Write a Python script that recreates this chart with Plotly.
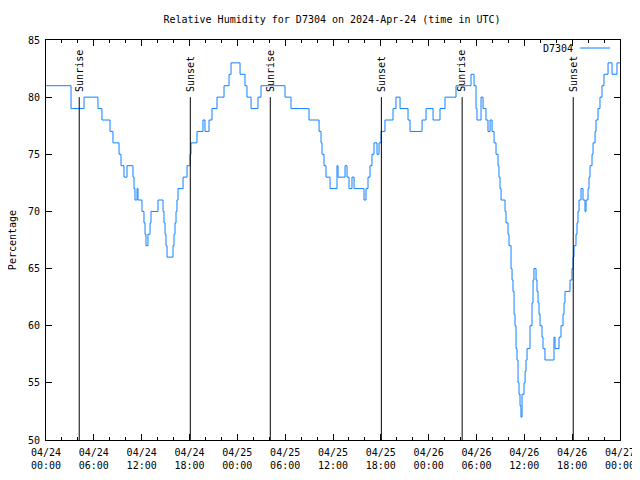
import pandas as pd
import plotly.graph_objects as go

# ---- data -------------------------------------------------------------
start = "2024-04-24 00:00"
hours = [0, 3.14, 4.77, 6.52, 7.02, 8.03, 8.40, 9.16, 9.41, 9.78, 10.16, 10.91, 11.04, 11.16, 11.42,
         11.54, 12.04, 12.29, 12.42, 12.54, 12.79, 13.05, 13.17, 14.05, 14.68, 14.80, 14.93, 15.05,
         15.18, 15.93, 16.06, 16.18, 16.31, 16.43, 16.56, 17.19, 17.69, 18.06, 18.19, 18.94, 19.69,
         19.94, 20.45, 20.82, 21.45, 22.33, 22.96, 23.21, 24.34, 24.96, 25.21, 25.72, 26.59, 26.97,
         29.98, 30.73, 32.99, 34.25, 34.50, 34.62, 34.87, 35.12, 35.63, 36.50, 36.63, 37.51, 37.76,
         38.01, 38.38, 38.64, 39.89, 40.14, 40.39, 40.64, 40.89, 41.14, 41.52, 41.77, 42.02, 42.52,
         43.53, 43.90, 44.41, 45.41, 45.66, 47.17, 47.67, 48.55, 49.42, 50.05, 51.43, 53.31, 53.69,
         53.94, 54.06, 54.57, 54.82, 55.19, 55.44, 55.70, 55.95, 56.20, 56.45, 56.70, 56.82, 56.95,
         57.08, 57.58, 57.70, 57.95, 58.08, 58.33, 58.46, 58.58, 58.71, 58.83, 58.96, 59.08, 59.21,
         59.33, 59.46, 59.58, 59.71, 59.96, 60.09, 60.21, 60.34, 60.71, 60.96, 61.09, 61.21, 61.47,
         61.59, 61.72, 61.84, 61.97, 62.22, 62.34, 62.59, 63.72, 63.85, 64.35, 64.60, 64.85, 64.98,
         65.10, 65.73, 65.98, 66.11, 66.23, 66.48, 66.61, 66.73, 66.86, 67.11, 67.36, 67.61, 67.74,
         67.99, 68.11, 68.24, 68.49, 68.62, 68.87, 68.99, 69.24, 69.49, 69.74, 69.99, 70.50, 71.00,
         71.62, 72.00]
rh = [81, 79, 80, 79, 78, 77, 76, 75, 74, 73, 74, 73, 72, 71, 72,
      71, 70, 69, 68, 67, 68, 69, 70, 71, 70, 69, 68, 67,
      66, 67, 68, 69, 70, 71, 72, 73, 74, 75, 76, 77, 78,
      77, 78, 79, 80, 81, 82, 83, 82, 81, 80, 79, 80, 81,
      80, 79, 78, 77, 76, 75, 74, 73, 72, 74, 73, 74, 73,
      72, 73, 72, 71, 72, 73, 74, 75, 76, 75, 76, 77, 78,
      79, 80, 79, 78, 77, 78, 79, 78, 79, 80, 81, 82, 81,
      79, 78, 80, 79, 78, 77, 78, 77, 76, 75, 74, 73, 72,
      71, 70, 69, 68, 67, 65, 64, 63, 61, 60, 58, 57, 55,
      54, 53, 52, 54, 55, 56, 57, 58, 60, 62, 64, 65, 64,
      63, 62, 61, 60, 59, 58, 57, 59, 58, 59, 60, 61, 62,
      63, 64, 65, 66, 67, 68, 69, 70, 71, 72, 71, 70, 71,
      72, 73, 74, 75, 76, 77, 78, 79, 80, 81, 82, 83, 82,
      83, 83]

sunrise = ["2024-04-24 04:10", "2024-04-25 04:08", "2024-04-26 04:12"]
sunset = ["2024-04-24 18:06", "2024-04-25 18:04", "2024-04-26 18:08"]

tick_vals = ["2024-04-24 00:00", "2024-04-24 06:00", "2024-04-24 12:00", "2024-04-24 18:00",
             "2024-04-25 00:00", "2024-04-25 06:00", "2024-04-25 12:00", "2024-04-25 18:00",
             "2024-04-26 00:00", "2024-04-26 06:00", "2024-04-26 12:00", "2024-04-26 18:00",
             "2024-04-27 00:00"]
tick_text = ["04/24<br>00:00", "04/24<br>06:00", "04/24<br>12:00", "04/24<br>18:00",
             "04/25<br>00:00", "04/25<br>06:00", "04/25<br>12:00", "04/25<br>18:00",
             "04/26<br>00:00", "04/26<br>06:00", "04/26<br>12:00", "04/26<br>18:00",
             "04/27<br>00:00"]
y_ticks = [50, 55, 60, 65, 70, 75, 80, 85]

series_name = "D7304"
title = "Relative Humidity for D7304 on 2024-Apr-24 (time in UTC)"

# ---- figure -----------------------------------------------------------
times = pd.Timestamp(start) + pd.to_timedelta(hours, unit="h")
FONT = "DejaVu Sans Mono"
BLUE = "#0f80ff"
W, H = 632, 472  # page body has an 8px margin

fig = go.Figure()
fig.add_trace(go.Scatter(x=times, y=rh, mode="lines", line=dict(color=BLUE, width=1, shape="hv"),
                         name=series_name, showlegend=False))

for t in sunrise:
    fig.add_shape(type="line", x0=t, x1=t, y0=50, y1=80, xref="x", yref="y",
                  line=dict(color="black", width=1))
    fig.add_annotation(x=t, y=80.3, text="Sunrise", textangle=-90, showarrow=False,
                       xanchor="center", yanchor="bottom", font=dict(family=FONT, size=10, color="black"))
for t in sunset:
    fig.add_shape(type="line", x0=t, x1=t, y0=50, y1=80, xref="x", yref="y",
                  line=dict(color="black", width=1))
    fig.add_annotation(x=t, y=80.3, text="Sunset", textangle=-90, showarrow=False,
                       xanchor="center", yanchor="bottom", font=dict(family=FONT, size=10, color="black"))

# legend (gnuplot style: text then sample)
fig.add_annotation(x=0.9216, y=0.98, xref="paper", yref="paper", text=series_name, showarrow=False,
                   xanchor="right", yanchor="middle", font=dict(family=FONT, size=10, color="black"))
fig.add_shape(type="line", x0=0.930, x1=0.983, y0=0.98, y1=0.98, xref="paper", yref="paper",
              line=dict(color=BLUE, width=1))

# y axis title
fig.add_annotation(x=-0.059, y=0.5, xref="paper", yref="paper", text="Percentage", textangle=-90,
                   showarrow=False, xanchor="center", yanchor="middle",
                   font=dict(family=FONT, size=10, color="black"))

fig.update_layout(
    width=W, height=H,
    margin=dict(l=38, r=20, t=32, b=40, autoexpand=False),
    paper_bgcolor="white", plot_bgcolor="white",
    font=dict(family=FONT, size=10, color="black"),
    title=dict(text=title, x=324 / W, xanchor="center", y=1 - 11 / H, yanchor="middle",
               font=dict(family=FONT, size=10, color="black")),
    showlegend=False,
)
fig.update_xaxes(
    type="date", range=[tick_vals[0], tick_vals[-1]], automargin=False,
    tickmode="array", tickvals=tick_vals, ticktext=tick_text, ticklabelstandoff=3,
    ticks="inside", ticklen=6, tickcolor="black", tickwidth=1,
    minor=dict(dtick=2 * 3600 * 1000, ticks="inside", ticklen=3, tickcolor="black", showgrid=False),
    showline=True, linecolor="black", linewidth=1, mirror="allticks",
    showgrid=False, zeroline=False, tickangle=0,
)
fig.update_yaxes(
    range=[50, 85], tickmode="array", tickvals=y_ticks, automargin=False, ticklabelstandoff=3,
    ticks="inside", ticklen=6, tickcolor="black", tickwidth=1,
    showline=True, linecolor="black", linewidth=1, mirror="allticks",
    showgrid=False, zeroline=False,
)

fig.write_html("out.html")
